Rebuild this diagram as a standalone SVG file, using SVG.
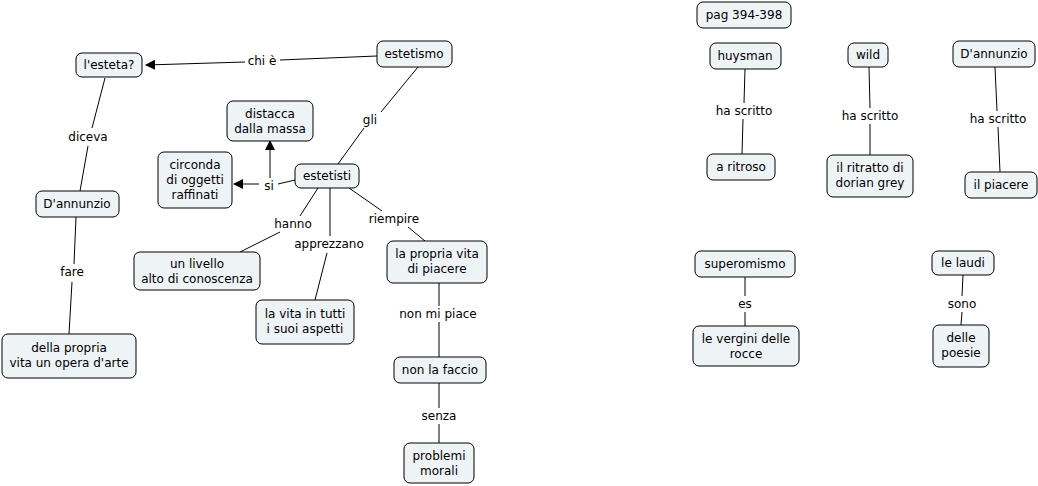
<svg xmlns="http://www.w3.org/2000/svg" width="1038" height="486" viewBox="0 0 1038 486">
<style>
.n rect{fill:#eef3f6;stroke:#000;stroke-width:1}
text{font-family:"DejaVu Sans",Verdana,sans-serif;font-size:12px;text-anchor:middle;fill:#000}
.c line,.c polyline{stroke:#000;stroke-width:1;fill:none}
.l rect{fill:#fff}
</style>
<defs><marker id="a" markerWidth="10" markerHeight="10" refX="9" refY="5" orient="auto" markerUnits="userSpaceOnUse"><path d="M0,0L10,5L0,10z" fill="#000"/></marker></defs>
<rect width="1038" height="486" fill="#fff"/>
<g class="c">
<polyline points="377,56 280,60"/><polyline points="245,62 146,65" marker-end="url(#a)"/>
<line x1="105" y1="78" x2="92" y2="128"/><line x1="88" y1="146" x2="80" y2="191"/>
<line x1="76" y1="217" x2="74" y2="264"/><line x1="72" y1="282" x2="69" y2="334"/>
<line x1="418" y1="67" x2="381" y2="112"/><line x1="364" y1="128" x2="338" y2="164"/>
<line x1="295" y1="180" x2="278" y2="184"/><line x1="259" y1="184" x2="234" y2="184" marker-end="url(#a)"/>
<line x1="270" y1="178" x2="270" y2="141" marker-end="url(#a)"/>
<line x1="318" y1="188" x2="300" y2="216"/><line x1="280" y1="232" x2="240" y2="252"/>
<line x1="330" y1="188" x2="330" y2="236"/><line x1="327" y1="253" x2="315" y2="300"/>
<line x1="349" y1="188" x2="382" y2="211"/><line x1="408" y1="227" x2="425" y2="241"/>
<line x1="439" y1="283" x2="439" y2="306"/><line x1="439" y1="322" x2="439" y2="357"/>
<line x1="439" y1="383" x2="439" y2="408"/><line x1="439" y1="424" x2="439" y2="443"/>
<line x1="745" y1="69" x2="744" y2="103"/><line x1="743" y1="119" x2="742" y2="154"/>
<line x1="869" y1="67" x2="870" y2="108"/><line x1="870" y1="124" x2="870" y2="155"/>
<line x1="995" y1="67" x2="997" y2="111"/><line x1="998" y1="127" x2="1000" y2="172"/>
<line x1="745" y1="277" x2="745" y2="296"/><line x1="745" y1="312" x2="745" y2="326"/>
<line x1="963" y1="275" x2="962" y2="296"/><line x1="962" y1="312" x2="961" y2="325"/>
</g>
<g class="l">
<text x="262" y="65">chi è</text><text x="88" y="141">diceva</text><text x="72" y="276">fare</text>
<text x="370" y="124">gli</text><text x="269" y="190">si</text><text x="293" y="228">hanno</text>
<text x="329" y="248">apprezzano</text><text x="394" y="223">riempire</text>
<text x="438" y="318">non mi piace</text><text x="439" y="420">senza</text>
<text x="744" y="115">ha scritto</text><text x="870" y="120">ha scritto</text><text x="998" y="123">ha scritto</text>
<text x="745" y="308">es</text><text x="962" y="308">sono</text>
</g>
<g class="n">
<g id="estetismo"><rect x="377" y="41" width="75" height="26" rx="6"/><text x="414" y="58">estetismo</text></g>
<g id="esteta"><rect x="76" y="53" width="66" height="24" rx="6"/><text x="109" y="69">l'esteta?</text></g>
<g id="dannunzio1"><rect x="36" y="191" width="83" height="26" rx="6"/><text x="77" y="208">D'annunzio</text></g>
<g id="opera"><rect x="2" y="334" width="134" height="44" rx="6"/><text x="69" y="352">della propria</text><text x="69" y="367">vita un opera d'arte</text></g>
<g id="distacca"><rect x="227" y="101" width="86" height="40" rx="6"/><text x="270" y="118">distacca</text><text x="270" y="133">dalla massa</text></g>
<g id="circonda"><rect x="158" y="152" width="74" height="56" rx="6"/><text x="195" y="169">circonda</text><text x="195" y="184">di oggetti</text><text x="195" y="199">raffinati</text></g>
<g id="estetisti"><rect x="295" y="164" width="64" height="24" rx="6"/><text x="327" y="180">estetisti</text></g>
<g id="livello"><rect x="134" y="252" width="126" height="38" rx="6"/><text x="197" y="268">un livello</text><text x="197" y="283">alto di conoscenza</text></g>
<g id="vita"><rect x="256" y="300" width="98" height="44" rx="6"/><text x="305" y="318">la vita in tutti</text><text x="305" y="333">i suoi aspetti</text></g>
<g id="piacere1"><rect x="387" y="241" width="100" height="42" rx="6"/><text x="437" y="258">la propria vita</text><text x="437" y="273">di piacere</text></g>
<g id="faccio"><rect x="394" y="357" width="92" height="26" rx="6"/><text x="440" y="374">non la faccio</text></g>
<g id="problemi"><rect x="404" y="443" width="70" height="40" rx="6"/><text x="439" y="460">problemi</text><text x="439" y="475">morali</text></g>
<g id="pag"><rect x="697" y="2" width="94" height="26" rx="6"/><text x="744" y="19">pag 394-398</text></g>
<g id="huysman"><rect x="710" y="43" width="71" height="26" rx="6"/><text x="745" y="60">huysman</text></g>
<g id="ritroso"><rect x="707" y="154" width="68" height="26" rx="6"/><text x="741" y="171">a ritroso</text></g>
<g id="wild"><rect x="848" y="43" width="40" height="24" rx="6"/><text x="868" y="59">wild</text></g>
<g id="ritratto"><rect x="827" y="155" width="86" height="42" rx="6"/><text x="870" y="172">il ritratto di</text><text x="870" y="187">dorian grey</text></g>
<g id="dannunzio2"><rect x="953" y="41" width="82" height="26" rx="6"/><text x="994" y="58">D'annunzio</text></g>
<g id="piacere2"><rect x="965" y="172" width="72" height="26" rx="6"/><text x="1001" y="189">il piacere</text></g>
<g id="superomismo"><rect x="695" y="251" width="100" height="26" rx="6"/><text x="745" y="268">superomismo</text></g>
<g id="vergini"><rect x="693" y="326" width="106" height="40" rx="6"/><text x="746" y="343">le vergini delle</text><text x="746" y="358">rocce</text></g>
<g id="laudi"><rect x="932" y="251" width="62" height="24" rx="6"/><text x="963" y="267">le laudi</text></g>
<g id="poesie"><rect x="933" y="325" width="56" height="42" rx="6"/><text x="961" y="342">delle</text><text x="961" y="357">poesie</text></g>
</g>
</svg>
